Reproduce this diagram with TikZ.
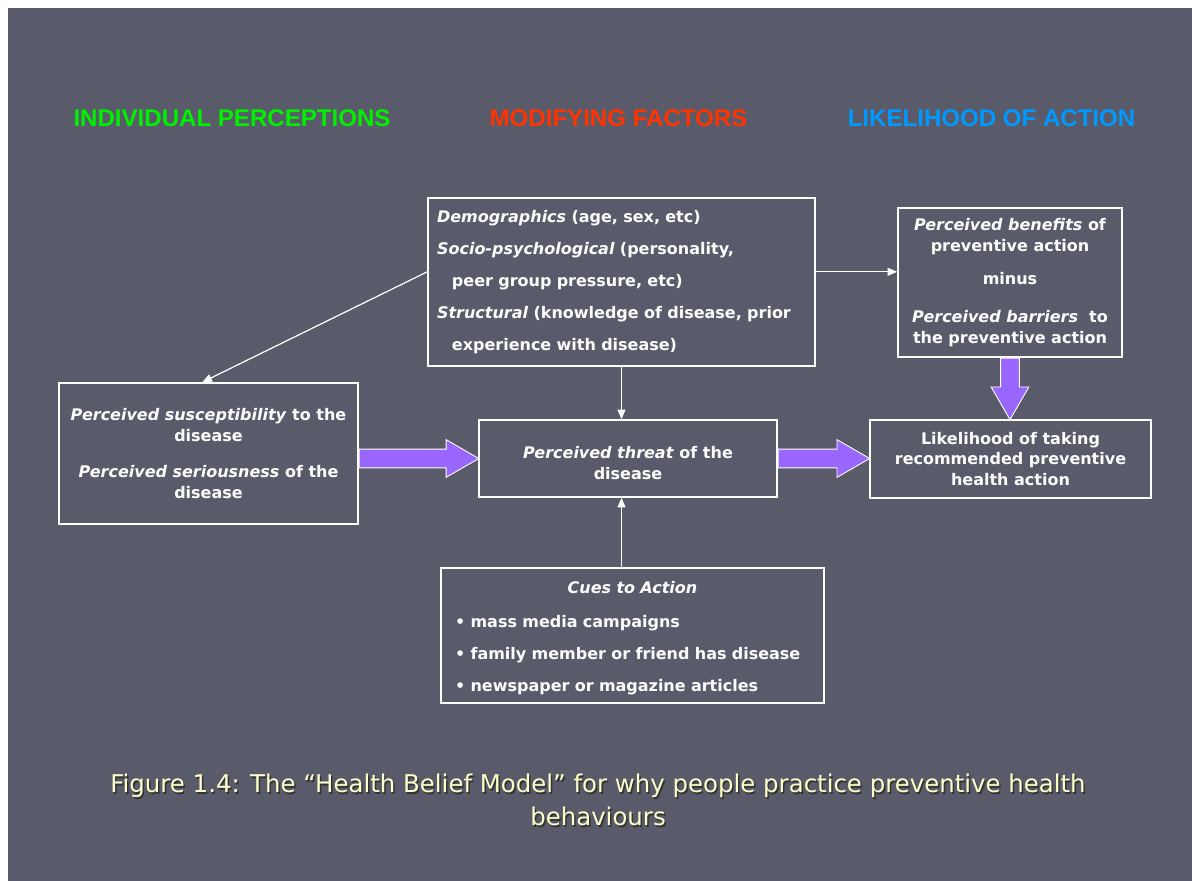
\documentclass[tikz,border=0pt]{standalone}
\usepackage{fontspec}
\setmainfont{DejaVu Sans}
\newfontfamily\headfont{Liberation Sans}
\usetikzlibrary{positioning,arrows.meta,calc,shapes.arrows}
\definecolor{hbmbg}{HTML}{5A5B6A}
\definecolor{hbmviolet}{HTML}{9966FF}
\definecolor{hbmgreen}{HTML}{00F000}
\definecolor{hbmred}{HTML}{FF3300}
\definecolor{hbmblue}{HTML}{0099FF}
\definecolor{hbmcap}{HTML}{FFFFCC}

\begin{document}
\begin{tikzpicture}[x=0.02cm, y=-0.02cm, text=white,
  font=\bfseries\fontsize{9.1}{11.9}\selectfont,
  box/.style={draw=white, line width=0.9pt, inner sep=0pt, align=center},
  wide/.style={font=\bfseries\fontsize{9.1}{18.2}\selectfont, align=left},
  head/.style={font=\headfont\bfseries\fontsize{13.7}{15}\selectfont},
  thin/.style={draw=white, line width=0.7pt, -{Triangle[length=5.5pt,width=4.5pt]}},
  fat/.style={single arrow, draw=white, line width=0.5pt, fill=hbmviolet,
    inner xsep=0pt, inner ysep=5.1pt, single arrow head extend=5.4pt,
    single arrow tip angle=60, sloped, allow upside down, pos=0, anchor=tail}]
% slide background
\fill[white] (0,0) rectangle (1192,881);
\fill[hbmbg] (8,8) rectangle (1192,881);

% column headings
\node[head, text=hbmgreen] (hind) at (232,118) {INDIVIDUAL PERCEPTIONS};
\node[head, text=hbmred] (hmod) at (618.5,118) {MODIFYING FACTORS};
\node[head, text=hbmblue] (hlik) at (991.5,118) {LIKELIHOOD OF ACTION};

% boxes
\node[box, wide, minimum width=7.74cm, minimum height=3.36cm, text width=7.38cm] (demo) at (621.5,282)
  {\textit{Demographics} (age, sex, etc)\\ \textit{Socio-psychological} (personality,\\
   \hspace*{8.5pt}peer group pressure, etc)\\ \textit{Structural} (knowledge of disease, prior\\
   \hspace*{8.5pt}experience with disease)};
\node[box, minimum width=4.48cm, minimum height=2.98cm] (ben) at (1010,282.5)
  {\textit{Perceived benefits} of\\ preventive action\\[6.8pt] minus\\[9.6pt]
   \textit{Perceived barriers}\ \ to\\ the preventive action};
\node[box, minimum width=5.98cm, minimum height=2.82cm] (susc) at (208.5,453.5)
  {\textit{Perceived susceptibility} to the\\ disease\\[9pt]
   \textit{Perceived seriousness} of the\\ disease};
\node[box, minimum width=5.96cm, minimum height=1.54cm] (threat) at (628,458.5)
  {\rule{0pt}{12.4pt}\textit{Perceived threat} of the\\ disease};
\node[box, minimum width=5.62cm, minimum height=1.56cm] (like) at (1010.5,459)
  {Likelihood of taking\\ recommended preventive\\ health action};
\node[box, wide, minimum width=7.66cm, minimum height=2.7cm, text width=7.1cm] (cues) at (632.5,635.5)
  {\rule{0pt}{10pt}\makebox[\linewidth]{\textit{Cues to Action}}\\[1.5pt] • mass media campaigns\\
   • family member or friend has disease\\ • newspaper or magazine articles};

% thin connectors
\draw[thin] (demo.177) -- (susc.95);
\draw[thin] (demo.3) -- (demo.3 -| ben.west);
\draw[thin] (demo.south) -- (demo.south |- threat.north);
\draw[thin] (cues.north -| demo.south) -- (threat.south -| demo.south);

% block arrows
\path let \p1=($(threat.west)-(susc.east)$), \n1={veclen(\x1,\y1)} in
  (susc.east |- threat.west) -- node[fat, minimum height=\n1] (fa1) {} (threat.west);
\path let \p1=($(like.west)-(threat.east)$), \n1={veclen(\x1,\y1)} in
  (threat.east) -- node[fat, minimum height=\n1] (fa2) {} (threat.east -| like.west);
\path let \p1=($(like.north)-(ben.south)$), \n1={veclen(\x1,\y1)} in
  (ben.south) -- node[fat, minimum height=\n1] (fa3) {} (ben.south |- like.north);

% caption
\node[font=\fontsize{13.9}{18.7}\selectfont, align=center, text=black!80] (capshadow) at (599.5,801.5)
  {Figure 1.4: The “Health Belief Model” for why people practice preventive health\\ behaviours};
\node[font=\fontsize{13.9}{18.7}\selectfont, align=center, text=hbmcap] (cap) at (598,800)
  {Figure 1.4: The “Health Belief Model” for why people practice preventive health\\ behaviours};
\end{tikzpicture}
\end{document}
